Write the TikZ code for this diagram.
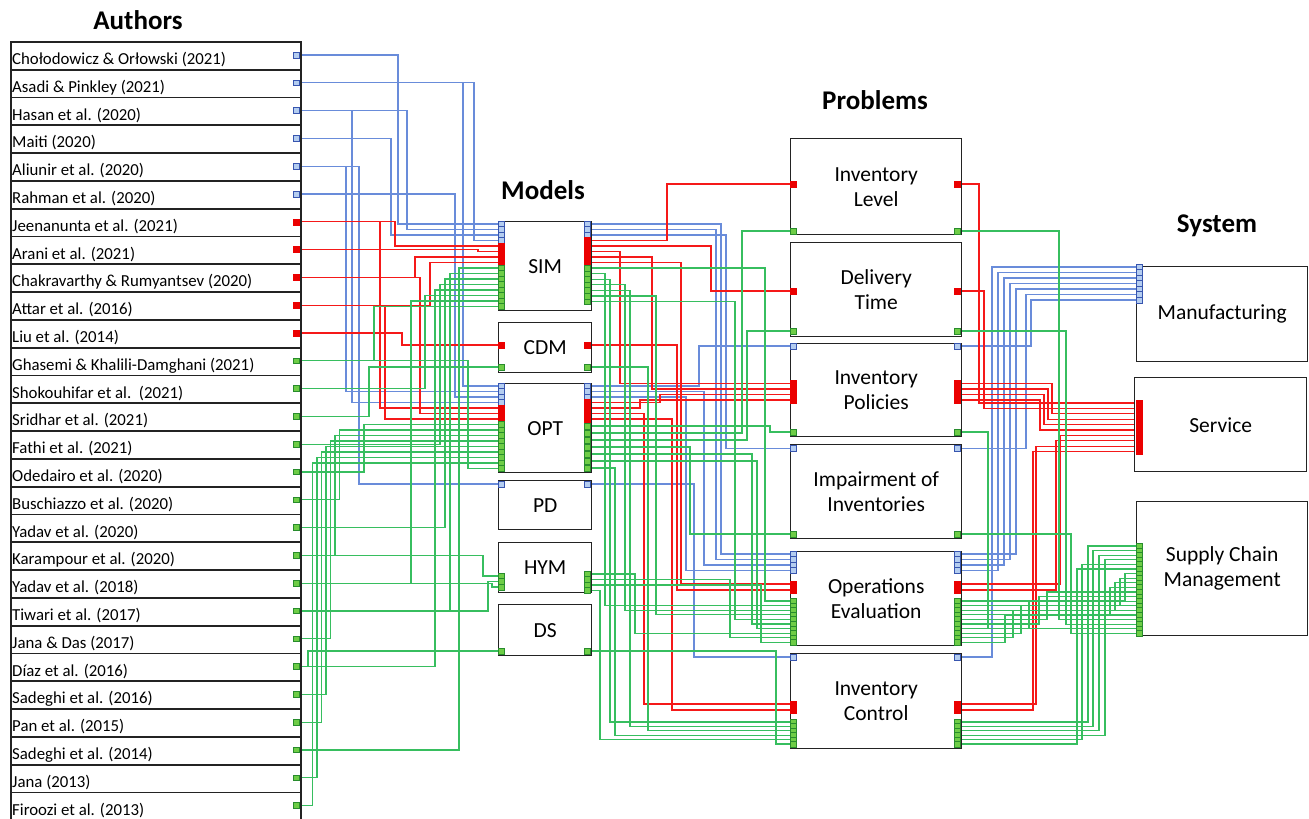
\documentclass[tikz,border=0pt]{standalone}
\usepackage{fontspec}
\setmainfont{Carlito}
\pgfdeclarelayer{bg}
\pgfsetlayers{bg,main}
\definecolor{wblue}{RGB}{105,140,218}
\definecolor{pblue}{RGB}{180,205,240}
\definecolor{dblue}{RGB}{55,85,175}
\definecolor{wred}{RGB}{245,25,25}
\definecolor{pred}{RGB}{235,0,0}
\definecolor{wgreen}{RGB}{55,190,95}
\definecolor{pgreen}{RGB}{110,205,70}
\definecolor{dgreen}{RGB}{40,140,45}
\definecolor{frame}{RGB}{35,35,35}
\tikzset{
 bport/.style={draw=dblue,fill=pblue,line width=0.6pt,minimum size=5.8pt,inner sep=0pt},
 rport/.style={draw=pred,fill=pred,line width=0.4pt,minimum size=6pt,inner sep=0pt},
 gport/.style={draw=dgreen,fill=pgreen,line width=0.5pt,minimum size=5.6pt,inner sep=0pt},
 bw/.style={draw=wblue,line width=1.2pt},
 rw/.style={draw=wred,line width=1.2pt},
 gw/.style={draw=wgreen,line width=1.2pt},
 mbox/.style={draw=frame,line width=1.4pt,fill=white,anchor=north west,inner sep=0pt,font=\fontsize{21.5}{25}\selectfont,align=center},
 rowbox/.style={draw=frame,line width=1.7pt,anchor=north west,minimum width=290pt,minimum height=27.8pt,inner sep=0pt},
 atext/.style={anchor=base west,inner sep=0pt,font=\fontsize{16.8}{16.8}\selectfont},
 ttl/.style={font=\bfseries\fontsize{27}{27}\selectfont,inner sep=0pt}
}
\newcommand\pstack[6]{\foreach \k in {1,...,#6}{\node[#2] (#1\k) at (#3,{#4+(\k-1)*#5}) {};}}
\newcommand\wire[4]{\draw[#1] (#2) -| (#4,0 |- #3) -- (#3);}
\begin{document}
\begin{tikzpicture}[x=1pt,y=-1pt]
\useasboundingbox (0,0) rectangle (1309,819);
% titles
\node[ttl] (tA) at (138,20) {Authors};
\node[ttl] (tM) at (543,190) {Models};
\node[ttl] (tP) at (875,100) {Problems};
\node[ttl] (tS) at (1217,226) {System};
% author table
\foreach \t [count=\i from 0] in {Chołodowicz \& Orłowski (2021),Asadi \& Pinkley (2021),Hasan et al. (2020),Maiti (2020),Aliunir et al. (2020),Rahman et al. (2020),Jeenanunta et al. (2021),Arani et al. (2021),Chakravarthy \& Rumyantsev (2020),Attar et al. (2016),Liu et al. (2014),Ghasemi \& Khalili-Damghani (2021),Shokouhifar et al.\ \ (2021),Sridhar et al. (2021),Fathi et al. (2021),Odedairo et al. (2020),Buschiazzo et al. (2020),Yadav et al. (2020),Karampour et al. (2020),Yadav et al. (2018),Tiwari et al. (2017),Jana \& Das (2017),Díaz et al. (2016),Sadeghi et al. (2016),Pan et al. (2015),Sadeghi et al. (2014),Jana (2013),Firoozi et al. (2013)}{
  \node[rowbox] (row\i) at (10,{41+27.8*\i}) {};
  \node[atext] (au\i) at (12,{41+27.8*\i+23.5}) {\t};
}
% model boxes
\node[mbox,minimum width=93pt,minimum height=89pt] (sim) at (498,221) {SIM};
\node[mbox,minimum width=93pt,minimum height=50pt] (cdm) at (498,322) {CDM};
\node[mbox,minimum width=93pt,minimum height=89pt] (opt) at (498,383) {OPT};
\node[mbox,minimum width=93pt,minimum height=49pt] (pd) at (498,480) {PD};
\node[mbox,minimum width=93pt,minimum height=50pt] (hym) at (498,542) {HYM};
\node[mbox,minimum width=93pt,minimum height=51pt] (ds) at (498,604) {DS};
% problem boxes
\node[mbox,minimum width=171pt,minimum height=96pt] (il) at (790,138) {Inventory\\Level};
\node[mbox,minimum width=171pt,minimum height=94pt] (dt) at (790,242) {Delivery\\Time};
\node[mbox,minimum width=171pt,minimum height=93pt] (ip) at (790,343) {Inventory\\Policies};
\node[mbox,minimum width=171pt,minimum height=94pt] (imp) at (790,444) {Impairment of\\Inventories};
\node[mbox,minimum width=171pt,minimum height=94pt] (oe) at (790,551) {Operations\\Evaluation};
\node[mbox,minimum width=171pt,minimum height=95pt] (ic) at (790,653) {Inventory\\Control};
% system boxes
\node[mbox,minimum width=171pt,minimum height=95pt] (mf) at (1136,266) {Manufacturing};
\node[mbox,minimum width=172pt,minimum height=94pt] (sv) at (1134,377) {Service};
\node[mbox,minimum width=171pt,minimum height=134pt] (scm) at (1136,501) {Supply Chain\\Management};
% author ports
\foreach \i in {0,...,5} {\node[bport] (a\i) at (296,{54.9+27.8*\i}) {};}
\foreach \i in {6,...,10} {\node[rport] (a\i) at (296,{54.9+27.8*\i}) {};}
\foreach \i in {11,...,27} {\node[gport] (a\i) at (296,{54.9+27.8*\i}) {};}
% model ports left
\pstack{simLb}{bport}{501.5}{224}{5.5}{4}
\pstack{simLr}{rport}{501.5}{246}{5.5}{4}
\pstack{simLg}{gport}{501.5}{268}{5.5}{8}
\pstack{cdmLr}{rport}{501.5}{345}{0}{1}
\pstack{cdmLg}{gport}{501.5}{367}{0}{1}
\pstack{optLb}{bport}{501.5}{386}{5.5}{4}
\pstack{optLr}{rport}{501.5}{408}{5.5}{3}
\pstack{optLg}{gport}{501.5}{424.5}{5.5}{9}
\pstack{pdLb}{bport}{501.5}{484}{0}{1}
\pstack{hymLg}{gport}{501.5}{576}{5.5}{3}
\pstack{dsLg}{gport}{501.5}{651}{0}{1}
% model ports right
\pstack{simRb}{bport}{587.5}{224}{5.5}{3}
\pstack{simRr}{rport}{587.5}{240.5}{5.5}{5}
\pstack{simRg}{gport}{587.5}{268}{5.6}{7}
\pstack{cdmRr}{rport}{587.5}{345}{0}{1}
\pstack{cdmRg}{gport}{587.5}{367}{0}{1}
\pstack{optRb}{bport}{587.5}{386}{5.5}{3}
\pstack{optRr}{rport}{587.5}{402.5}{5.5}{4}
\pstack{optRg}{gport}{587.5}{426}{7}{7}
\pstack{pdRb}{bport}{587.5}{484}{0}{1}
\pstack{hymRg}{gport}{587.5}{574}{5.5}{4}
\pstack{dsRg}{gport}{587.5}{651}{0}{1}
% problem ports left
\pstack{ilLr}{rport}{793.5}{184}{0}{1}
\pstack{ilLg}{gport}{793.5}{231}{0}{1}
\pstack{dtLr}{rport}{793.5}{291}{0}{1}
\pstack{dtLg}{gport}{793.5}{331}{0}{1}
\pstack{ipLb}{bport}{793.5}{346}{0}{1}
\pstack{ipLr}{rport}{793.5}{383.5}{5.5}{4}
\pstack{ipLg}{gport}{793.5}{432}{0}{1}
\pstack{impLb}{bport}{793.5}{448.5}{0}{1}
\pstack{impLg}{gport}{793.5}{534}{0}{1}
\pstack{oeLb}{bport}{793.5}{554}{5.5}{4}
\pstack{oeLr}{rport}{793.5}{584}{6}{2}
\pstack{oeLg}{gport}{793.5}{601}{4.6}{10}
\pstack{icLb}{bport}{793.5}{657}{0}{1}
\pstack{icLr}{rport}{793.5}{704}{6}{2}
\pstack{icLg}{gport}{793.5}{722}{4.4}{6}
% problem ports right
\pstack{ilRr}{rport}{957}{184}{0}{1}
\pstack{ilRg}{gport}{957}{231}{0}{1}
\pstack{dtRr}{rport}{957}{291}{0}{1}
\pstack{dtRg}{gport}{957}{331}{0}{1}
\pstack{ipRb}{bport}{957}{346}{0}{1}
\pstack{ipRr}{rport}{957}{383.5}{5.5}{4}
\pstack{ipRg}{gport}{957}{432}{0}{1}
\pstack{impRb}{bport}{957}{448.5}{0}{1}
\pstack{impRg}{gport}{957}{534}{0}{1}
\pstack{oeRb}{bport}{957}{554}{5.5}{4}
\pstack{oeRr}{rport}{957}{584}{6}{2}
\pstack{oeRg}{gport}{957}{601}{4.6}{10}
\pstack{icRb}{bport}{957}{657}{0}{1}
\pstack{icRr}{rport}{957}{704}{6}{2}
\pstack{icRg}{gport}{957}{722}{4.4}{6}
% system ports
\pstack{mfLb}{bport}{1139}{267}{5.5}{7}
\pstack{svLr}{rport}{1139}{403}{5.4}{10}
\pstack{scLg}{gport}{1139}{546}{4.6}{20}
\begin{pgfonlayer}{bg}
% authors -> models
\wire{bw}{a0}{simLb1}{398}
\wire{bw}{a2}{simLb2}{407}
\wire{bw}{a3}{simLb3}{391}
\wire{bw}{a1}{simLb4}{474}
\wire{bw}{a1}{optLb1}{463}
\wire{bw}{a4}{optLb2}{346}
\wire{bw}{a5}{optLb3}{455}
\wire{bw}{a2}{optLb4}{352}
\wire{bw}{a4}{pdLb1}{359}
\wire{rw}{a6}{simLr1}{395}
\wire{rw}{a7}{simLr2}{478}
\wire{rw}{a8}{simLr3}{415}
\wire{rw}{a9}{simLr4}{430}
\wire{rw}{a10}{cdmLr1}{402}
\wire{rw}{a6}{optLr1}{380}
\wire{rw}{a8}{optLr2}{420}
\wire{rw}{a9}{optLr3}{385}
\wire{gw}{a25}{simLg1}{459}
\wire{gw}{a20}{simLg2}{450}
\wire{gw}{a17}{simLg3}{445}
\wire{gw}{a14}{simLg4}{440}
\wire{gw}{a22}{simLg5}{435}
\wire{gw}{a12}{simLg6}{425}
\wire{gw}{a19}{simLg7}{411}
\wire{gw}{a11}{simLg8}{374}
\wire{gw}{a13}{cdmLg1}{369}
\wire{gw}{a15}{optLg1}{364}
\wire{gw}{a16}{optLg2}{339.5}
\wire{gw}{a18}{optLg3}{335}
\wire{gw}{a21}{optLg4}{330.5}
\wire{gw}{a23}{optLg5}{326}
\wire{gw}{a24}{optLg6}{321.5}
\wire{gw}{a26}{optLg7}{317}
\wire{gw}{a27}{optLg8}{312.5}
\wire{gw}{a11}{optLg9}{468}
\wire{gw}{a18}{hymLg1}{483}
\wire{gw}{a20}{hymLg2}{488}
\wire{gw}{a19}{hymLg3}{492}
\wire{gw}{a22}{dsLg1}{308}
% models -> problems
\wire{bw}{simRb1}{oeLb1}{721}
\wire{bw}{simRb2}{oeLb2}{716}
\wire{bw}{simRb3}{impLb1}{726}
\wire{bw}{optRb1}{ipLb1}{699}
\wire{bw}{optRb2}{oeLb3}{704}
\wire{bw}{optRb3}{oeLb4}{686}
\wire{bw}{pdRb1}{icLb1}{694}
\wire{rw}{simRr1}{ilLr1}{667}
\wire{rw}{simRr2}{dtLr1}{711}
\wire{rw}{simRr3}{ipLr1}{620}
\wire{rw}{simRr4}{ipLr2}{652}
\wire{rw}{simRr5}{oeLr1}{681}
\wire{rw}{cdmRr1}{oeLr2}{677}
\wire{rw}{optRr1}{ipLr3}{660}
\wire{rw}{optRr2}{ipLr4}{640}
\wire{rw}{optRr3}{icLr1}{644}
\wire{rw}{optRr4}{icLr2}{672}
\wire{gw}{simRg1}{oeLg1}{765}
\wire{gw}{simRg2}{oeLg2}{605}
\wire{gw}{simRg3}{icLg1}{610}
\wire{gw}{simRg4}{oeLg3}{625}
\wire{gw}{simRg5}{icLg2}{630}
\wire{gw}{simRg6}{oeLg4}{656}
\wire{gw}{simRg7}{oeLg5}{735}
\wire{gw}{cdmRg1}{icLg3}{648}
\wire{gw}{optRg1}{ipLg1}{770}
\wire{gw}{optRg2}{ilLg1}{742}
\wire{gw}{optRg3}{dtLg1}{747}
\wire{gw}{optRg4}{impLg1}{690}
\wire{gw}{optRg5}{oeLg6}{752}
\wire{gw}{optRg6}{oeLg7}{757}
\wire{gw}{optRg7}{icLg4}{615}
\wire{gw}{hymRg1}{oeLg8}{635}
\wire{gw}{hymRg2}{oeLg9}{730}
\wire{gw}{hymRg3}{oeLg10}{761}
\wire{gw}{hymRg4}{icLg5}{600}
\wire{gw}{dsRg1}{icLg6}{776}
% problems -> system
\wire{bw}{icRb1}{mfLb1}{992}
\wire{bw}{oeRb4}{mfLb2}{998}
\wire{bw}{oeRb3}{mfLb3}{1004}
\wire{bw}{oeRb2}{mfLb4}{1010}
\wire{bw}{oeRb1}{mfLb5}{1016}
\wire{bw}{impRb1}{mfLb6}{1026}
\wire{bw}{ipRb1}{mfLb7}{1031}
\wire{rw}{ilRr1}{svLr1}{979}
\wire{rw}{dtRr1}{svLr2}{984}
\wire{rw}{ipRr1}{svLr3}{1052}
\wire{rw}{ipRr2}{svLr4}{1048}
\wire{rw}{ipRr3}{svLr5}{1044}
\wire{rw}{ipRr4}{svLr6}{1040}
\wire{rw}{oeRr1}{svLr7}{1060}
\wire{rw}{oeRr2}{svLr8}{1056}
\wire{rw}{icRr1}{svLr9}{1036}
\wire{rw}{icRr2}{svLr10}{1033}
\wire{gw}{icRg1}{scLg1}{1088}
\wire{gw}{icRg2}{scLg2}{1093}
\wire{gw}{icRg3}{scLg3}{1099}
\wire{gw}{icRg4}{scLg4}{1105}
\wire{gw}{icRg5}{scLg5}{1082}
\wire{gw}{icRg6}{scLg6}{1077}
\wire{gw}{oeRg1}{scLg7}{1125}
\wire{gw}{oeRg2}{scLg8}{1120}
\wire{gw}{oeRg3}{scLg9}{1115}
\wire{gw}{oeRg4}{scLg10}{1110}
\wire{gw}{oeRg5}{scLg11}{1047}
\wire{gw}{oeRg6}{scLg12}{1039}
\wire{gw}{oeRg7}{scLg13}{1029}
\wire{gw}{oeRg8}{scLg14}{1021}
\wire{gw}{oeRg9}{scLg15}{1013}
\wire{gw}{oeRg10}{scLg16}{1005}
\wire{gw}{ilRg1}{scLg17}{1059}
\wire{gw}{dtRg1}{scLg18}{1066}
\wire{gw}{ipRg1}{scLg19}{988}
\wire{gw}{impRg1}{scLg20}{1071}
\end{pgfonlayer}
\end{tikzpicture}
\end{document}
